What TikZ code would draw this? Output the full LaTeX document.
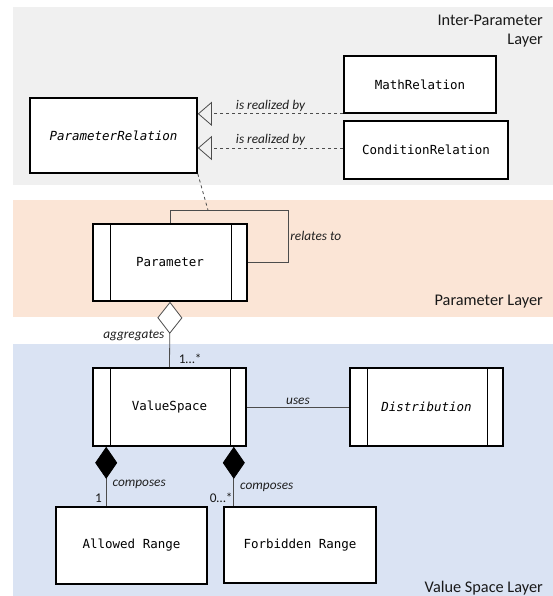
\documentclass[tikz,border=0pt]{standalone}
\usepackage{fontspec}
\setmainfont{Carlito}
\newfontfamily\boxfont{DejaVu Sans Mono}
\usetikzlibrary{arrows.meta}
\definecolor{interbg}{HTML}{F0F0F0}
\definecolor{parambg}{HTML}{FBE5D6}
\definecolor{valuebg}{HTML}{DAE3F3}
\tikzset{
 cls/.style={draw, line width=1.6pt, fill=white, inner sep=0pt,
  font=\boxfont\fontsize{12.5}{15}\selectfont},
 active/.style={cls, path picture={
  \draw[line width=.6pt] ([xshift=17pt]path picture bounding box.north west)
   -- ([xshift=17pt]path picture bounding box.south west);
  \draw[line width=.6pt] ([xshift=-16pt]path picture bounding box.north east)
   -- ([xshift=-16pt]path picture bounding box.south east);}},
 lbl/.style={font=\itshape\fontsize{13.3}{15}\selectfont, text=black!88, inner sep=2pt},
 mult/.style={font=\fontsize{13.3}{15}\selectfont, text=black!90, inner sep=1pt},
 layer/.style={font=\fontsize{16.3}{19}\selectfont, text=black!90, align=right, inner sep=0pt},
 conn/.style={draw=black!70, line width=.8pt},
 realize/.style={conn, dashed, -{Triangle[open, length=14pt, width=24pt]}},
 compose/.style={conn, {Diamond[length=32pt, width=22pt, color=black, fill=black]}-}
}

\begin{document}
\begin{tikzpicture}[x=1pt,y=-1pt]
\useasboundingbox (0,0) rectangle (553,596);

\fill[interbg] (13,7) rectangle (553,185);
\fill[parambg] (13,200) rectangle (553,317);
\fill[valuebg] (13,344) rectangle (553,596);
\node[layer, anchor=north east] (interlbl) at (543,15) {Inter-Parameter\\Layer};
\node[layer, anchor=east] (paramlbl) at (543,302) {Parameter Layer};
\node[layer, anchor=east] (valuelbl) at (543,588) {Value Space Layer};

\node[cls, minimum width=167pt, minimum height=75pt] (prel) at (113.5,135.5) {\itshape ParameterRelation};
\node[cls, minimum width=152pt, minimum height=57pt] (mrel) at (420,84.5) {MathRelation};
\node[cls, minimum width=164pt, minimum height=58pt] (crel) at (426,150) {ConditionRelation};
\node[active, minimum width=154pt, minimum height=77pt] (param) at (170,262.5) {Parameter};
\node[active, minimum width=153pt, minimum height=78pt] (vspace) at (169.5,407) {ValueSpace};
\node[active, minimum width=153pt, minimum height=78pt] (dist) at (426.5,407) {\itshape Distribution};
\node[cls, minimum width=151pt, minimum height=77pt] (arange) at (131.5,545.5) {Allowed Range};
\node[cls, minimum width=152pt, minimum height=76pt] (frange) at (300,545) {Forbidden Range};

\draw[realize] (mrel.south west) -- node[lbl, above] {is realized by} (prel.east |- mrel.south west);
\draw[realize] ([yshift=2pt]crel.west) -- node[lbl, above] {is realized by} ([yshift=2pt]prel.east |- crel.west);

\draw[conn] (param.north) -- ++(0,-13) -- ++(38,0) coordinate (loop) -- ++(80,0)
 |- (param.east) node[lbl, pos=.25, right] {relates to};
\draw[conn, dashed] (prel.south east) -- (loop);

\draw[conn, {Diamond[open, fill=white, length=32pt, width=25pt]}-] (param.south)
 -- node[lbl, pos=.51, left, xshift=-3pt] {aggregates}
 node[mult, pos=1, anchor=south west, xshift=8pt, yshift=2pt] {1…*} (vspace.north);
\draw[conn] (vspace.east) -- node[lbl, above] {uses} (dist.west);

\draw[compose] ([xshift=14pt]vspace.south west)
 -- node[lbl, pos=.64, right, xshift=4pt] {composes}
 node[mult, pos=.86, left, xshift=-3pt] {1} ([xshift=14pt]vspace.south west |- arange.north);
\draw[compose] ([xshift=-13pt]vspace.south east)
 -- node[lbl, pos=.68, right, xshift=4pt] {composes}
 node[mult, pos=.86, left] {0…*} ([xshift=-13pt]vspace.south east |- frange.north);
\end{tikzpicture}
\end{document}
